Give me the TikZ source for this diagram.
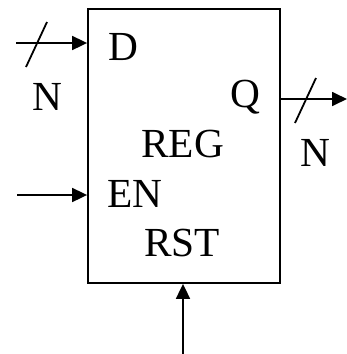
\documentclass[tikz,border=0pt]{standalone}
\usepackage{fontspec}
\setmainfont{Liberation Serif}
\usetikzlibrary{arrows.meta}
\begin{document}
\begin{tikzpicture}[x=1bp,y=-1bp,
  lbl/.style={inner sep=0pt,anchor=base west,font=\fontsize{41.5}{48}\selectfont},
  wire/.style={line width=1.8bp,-{Triangle[length=15bp,width=14bp]}},
  slash/.style={line width=1.8bp}]
\useasboundingbox (0,0) rectangle (347,354);
\node[draw,line width=1.8bp,minimum width=192bp,minimum height=274bp,inner sep=0pt] (box) at (184,146) {};
\node[lbl] (d) at (108,60) {D};
\node[lbl] (q) at (230,107) {Q};
\node[lbl] (reg) at (141,157) {REG};
\node[lbl] (en) at (107,207) {EN};
\node[lbl] (rst) at (144,256) {RST};
\node[lbl] (n1) at (32,110) {N};
\node[lbl] (n2) at (300,166) {N};
\coordinate (din) at (16,43);
\coordinate (enin) at (17,195);
\coordinate (qout) at (347,99);
\coordinate (rstin) at (183,354);
\draw[wire] (din) -- (din -| box.west);
\draw[wire] (enin) -- (enin -| box.west);
\draw[wire] (qout -| box.east) -- (qout);
\draw[wire] (rstin) -- (rstin |- box.south);
\coordinate (s1a) at (26,67);
\coordinate (s1b) at (47,22);
\coordinate (s2a) at (295,123);
\coordinate (s2b) at (316,78);
\draw[slash] (s1a) -- (s1b);
\draw[slash] (s2a) -- (s2b);
\end{tikzpicture}
\end{document}
